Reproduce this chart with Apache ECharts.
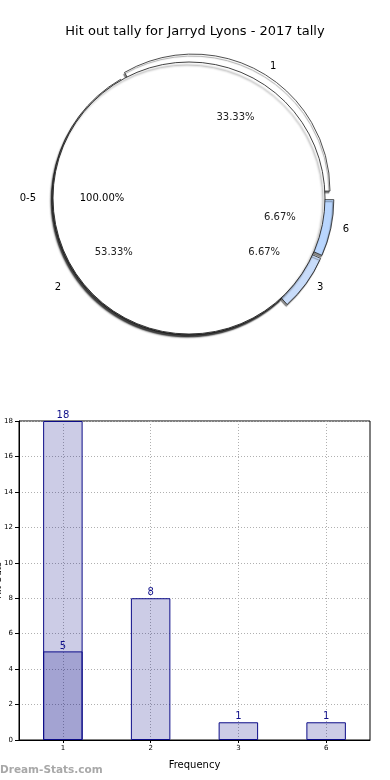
<!DOCTYPE html>
<html>
<head>
<meta charset="utf-8">
<script src="https://cdn.jsdelivr.net/npm/echarts@6/dist/echarts.min.js"></script>
<style>html,body{margin:0;padding:0;background:#fff}#c{width:390px;height:780px}</style>
</head>
<body>
<div id="c"></div>
<script>
var titleText = 'Hit out tally for Jarryd Lyons - 2017 tally';
var pieNames = ['1', '6', '3', '2'];
var pieValues = [5, 1, 1, 8];
var pieColors = ['#ffffff', '#b9d6fe', '#c8dcfa', '#ffffff'];
var pieExploded = [true, true, true, false];
var innerNames = ['0-5'];
var innerValues = [15];
var barCategories = ['1', '2', '3', '6'];
var barTotals = [18, 8, 1, 1];
var barSub = [5, null, null, null];
var yTicks = {min: 0, max: 18, interval: 2};

var FONT = 'DejaVu Sans';
var cx = 189, cy = 198;
function pct(v, arr) { var s = arr.reduce(function(a, b){return a + b;}, 0); return (v / s * 100).toFixed(2) + '%'; }

var outerData = pieNames.map(function(n, i){
  return {name: n, value: pieValues[i], selected: pieExploded[i], itemStyle: {color: pieColors[i]}};
});
var innerData = innerNames.map(function(n, i){ return {name: n, value: innerValues[i]}; });

var chart = echarts.init(document.getElementById('c'));
chart.setOption({
  animation: false,
  backgroundColor: '#fff',
  title: {text: titleText, left: 'center', top: 20, textStyle: {fontFamily: FONT, fontSize: 13, fontWeight: 'normal', color: '#000'}},
  graphic: [{type: 'text', left: 0, top: 765, style: {text: 'Dream-Stats.com', fontFamily: FONT, fontSize: 10.5, fontWeight: 'bold', fill: '#a8a8a8'}}],
  grid: {left: 19, right: 20, top: 421, bottom: 40, outerBoundsMode: 'none', containLabel: false,
    show: true, borderColor: '#000', borderWidth: 1, backgroundColor: 'rgba(0,0,0,0)'},
  xAxis: {
    type: 'category', data: barCategories,
    name: 'Frequency', nameLocation: 'middle', nameGap: 20, nameMoveOverlap: false,
    nameTextStyle: {fontFamily: FONT, fontSize: 10, color: '#000'},
    axisLine: {show: true, onZero: false, lineStyle: {color: '#000', width: 1}},
    axisTick: {show: true, alignWithLabel: true, length: 3, lineStyle: {color: '#000'}},
    axisLabel: {fontFamily: FONT, fontSize: 7, color: '#000', margin: 5},
    splitLine: {show: true, alignWithLabel: true, lineStyle: {type: [1, 2], color: '#b0b0b0'}}
  },
  yAxis: {
    type: 'value', min: yTicks.min, max: yTicks.max, interval: yTicks.interval,
    name: 'Hit Outs', nameLocation: 'middle', nameGap: 16, nameMoveOverlap: false,
    nameTextStyle: {fontFamily: FONT, fontSize: 9, color: '#000'},
    axisLine: {show: true, lineStyle: {color: '#000', width: 1}},
    axisTick: {show: true, length: 4, lineStyle: {color: '#000'}},
    axisLabel: {fontFamily: FONT, fontSize: 7, color: '#000', margin: 6},
    splitLine: {show: true, lineStyle: {type: [1, 2], color: '#b0b0b0'}}
  },
  series: [
    {
      type: 'bar', data: barTotals, barWidth: '45%', z: 2,
      itemStyle: {color: 'rgba(0,0,128,0.2)', borderColor: '#0c0c88', borderWidth: 1},
      label: {show: true, position: 'top', distance: 1, color: '#10108a', fontFamily: FONT, fontSize: 10},
      silent: true
    },
    {
      type: 'bar', data: barSub, barWidth: '45%', barGap: '-100%', z: 3,
      itemStyle: {color: 'rgba(0,0,128,0.2)', borderColor: '#0c0c88', borderWidth: 1},
      label: {show: true, position: 'top', distance: 0, color: '#10108a', fontFamily: FONT, fontSize: 10},
      silent: true
    },
    {
      type: 'pie', center: [cx, cy], radius: [0, 137], startAngle: 120, clockwise: true,
      selectedMode: 'multiple', selectedOffset: 8, avoidLabelOverlap: false, silent: true, z: 1,
      data: outerData,
      itemStyle: {borderColor: '#222', borderWidth: 0.8, shadowColor: 'rgba(0,0,0,0.45)', shadowBlur: 1, shadowOffsetX: -1, shadowOffsetY: 2},
      label: {show: false}, labelLine: {show: false}
    },
    {
      type: 'pie', center: [cx, cy], radius: [0, 136], startAngle: 0, clockwise: true,
      avoidLabelOverlap: false, silent: true, z: 2,
      data: innerData,
      itemStyle: {color: '#fff', borderColor: '#111', borderWidth: 0.8, shadowColor: 'rgba(0,0,0,0.55)', shadowBlur: 2, shadowOffsetX: -2, shadowOffsetY: 3},
      label: {show: true, position: 'outside', formatter: '{b}', fontFamily: FONT, fontSize: 10, color: '#000'},
      labelLine: {show: false, length: 12, length2: 0}
    },
    {
      type: 'pie', center: [cx, cy], radius: [0, 180], startAngle: 120, clockwise: true,
      avoidLabelOverlap: false, silent: true, z: 4,
      data: outerData.map(function(d){ return {name: d.name, value: d.value}; }),
      itemStyle: {color: 'rgba(0,0,0,0)', borderWidth: 0},
      label: {show: true, position: 'inner', fontFamily: FONT, fontSize: 10, color: '#222',
        formatter: function(p){ return pct(p.value, pieValues); }},
      labelLine: {show: false}
    },
    {
      type: 'pie', center: [cx, cy], radius: [0, 168], startAngle: 0, clockwise: true,
      avoidLabelOverlap: false, silent: true, z: 4,
      data: innerData,
      itemStyle: {color: 'rgba(0,0,0,0)', borderWidth: 0},
      label: {show: true, position: 'inner', fontFamily: FONT, fontSize: 10, color: '#000',
        formatter: function(p){ return pct(p.value, innerValues); }},
      labelLine: {show: false}
    },
    {
      type: 'pie', center: [cx, cy], radius: [0, 140], startAngle: 120, clockwise: true,
      avoidLabelOverlap: false, silent: true, z: 4,
      data: outerData.map(function(d){ return {name: d.name, value: d.value}; }),
      itemStyle: {color: 'rgba(0,0,0,0)', borderWidth: 0},
      label: {show: true, position: 'outside', formatter: '{b}', fontFamily: FONT, fontSize: 10, color: '#000'},
      labelLine: {show: false, length: 12, length2: 0}
    }
  ]
});
</script>
</body>
</html>
